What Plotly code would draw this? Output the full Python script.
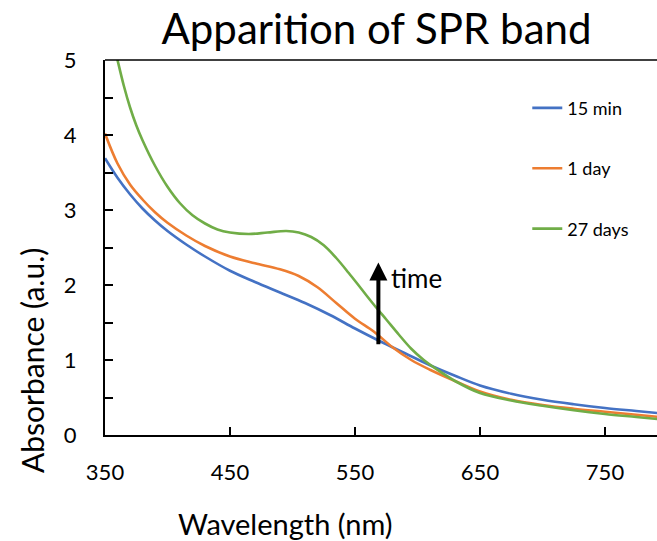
import plotly.graph_objects as go

# ---- data ----
wl_15min = [350, 360, 370, 380, 390, 400, 415, 430, 450, 470, 490, 510, 530, 550, 570, 590, 610, 630, 650, 675, 700, 725, 750, 775, 800]
abs_15min = [3.69, 3.43, 3.21, 3.02, 2.86, 2.72, 2.54, 2.38, 2.19, 2.04, 1.90, 1.76, 1.60, 1.42, 1.25, 1.09, 0.93, 0.79, 0.66, 0.55, 0.47, 0.41, 0.36, 0.32, 0.28]

wl_1day = [350, 360, 370, 380, 390, 400, 415, 430, 450, 470, 490, 505, 520, 535, 550, 565, 580, 595, 610, 630, 650, 675, 700, 725, 750, 775, 800]
abs_1day = [4.02, 3.62, 3.34, 3.14, 2.97, 2.83, 2.66, 2.52, 2.38, 2.29, 2.21, 2.12, 1.97, 1.76, 1.55, 1.38, 1.17, 1.00, 0.87, 0.72, 0.58, 0.47, 0.40, 0.35, 0.31, 0.27, 0.23]

wl_27days = [355, 360, 365, 370, 375, 380, 390, 400, 410, 420, 430, 440, 450, 465, 480, 495, 505, 515, 525, 535, 545, 555, 565, 575, 585, 595, 605, 615, 630, 650, 675, 700, 725, 750, 775, 800]
abs_27days = [5.36, 5.00, 4.66, 4.37, 4.13, 3.93, 3.59, 3.31, 3.09, 2.93, 2.82, 2.74, 2.70, 2.68, 2.70, 2.72, 2.70, 2.64, 2.53, 2.36, 2.16, 1.95, 1.74, 1.54, 1.34, 1.15, 1.00, 0.88, 0.72, 0.56, 0.46, 0.39, 0.33, 0.28, 0.24, 0.20]

series_names = ["15 min", "1 day", "27 days"]
series_colors = ["#4472C4", "#ED7D31", "#70AD47"]

x_ticks = [350, 450, 550, 650, 750]
y_ticks = [0, 1, 2, 3, 4, 5]

arrow_x = 568.7
arrow_y0 = 1.19
arrow_y1 = 2.30

FONT = "Lato"

fig = go.Figure()
for i, (wl, ab) in enumerate([(wl_15min, abs_15min), (wl_1day, abs_1day), (wl_27days, abs_27days)]):
    fig.add_trace(go.Scatter(
        x=wl, y=ab, mode="lines", name=series_names[i],
        line=dict(color=series_colors[i], width=2.6, shape="spline", smoothing=1.0),
        legendgroup=f"g{i}",
    ))

fig.update_layout(
    width=657, height=541,
    margin=dict(l=105, r=0, t=60, b=106),
    paper_bgcolor="white", plot_bgcolor="white",
    font=dict(family=FONT, color="black"),
    title=dict(text="Apparition of SPR band", font=dict(size=42, family=FONT, color="black"),
               x=0.573, xref="container", xanchor="center",
               y=0.945, yref="container", yanchor="middle"),
    showlegend=True,
    legend=dict(x=0.765, xanchor="left", y=0.921, yanchor="top",
                font=dict(size=18, family=FONT, color="black"),
                tracegroupgap=34, bgcolor="rgba(0,0,0,0)", itemwidth=30),
)

fig.update_xaxes(
    range=[350, 791.6], tickvals=x_ticks, ticktext=[str(v) for v in x_ticks],
    ticks="inside", ticklen=8, tickwidth=1.5, tickcolor="black",
    showline=True, linecolor="black", linewidth=2,
    showgrid=False, zeroline=False,
    tickfont=dict(size=22, family=FONT, color="black"),
    ticklabelstandoff=17,
)
fig.update_yaxes(
    range=[0, 5], tickvals=y_ticks, ticktext=[str(v) for v in y_ticks],
    ticks="inside", ticklen=8, tickwidth=1.5, tickcolor="black",
    minor=dict(dtick=0.5, ticks="inside", ticklen=8, tickwidth=1.5, tickcolor="black", showgrid=False),
    showline=True, linecolor="black", linewidth=2,
    showgrid=False, zeroline=False,
    tickfont=dict(size=22, family=FONT, color="black"),
    ticklabelstandoff=22,
)

# top frame line
fig.add_shape(type="line", xref="paper", yref="paper", x0=0, x1=1, y0=1, y1=1,
              line=dict(color="black", width=1.5))

# axis titles (positioned like the reference)
fig.add_annotation(text="Wavelength (nm)", xref="paper", yref="paper",
                   x=(285.5 - 105) / 552, y=(435 - 523) / 375, xanchor="center", yanchor="middle",
                   showarrow=False, font=dict(size=29, family=FONT, color="black"))
fig.add_annotation(text="Absorbance (a.u.)", xref="paper", yref="paper",
                   x=(32 - 105) / 552, y=(435 - 361) / 375, xanchor="center", yanchor="middle",
                   textangle=-90, showarrow=False, font=dict(size=30, family=FONT, color="black"))

# "time" arrow
fig.add_annotation(x=arrow_x, y=arrow_y1, ax=arrow_x, ay=arrow_y0, xref="x", yref="y",
                   axref="x", ayref="y", text="", showarrow=True,
                   arrowhead=2, arrowsize=0.9, arrowwidth=4, arrowcolor="black", standoff=0)
fig.add_annotation(x=577, y=2.09, xref="x", yref="y", text="time", showarrow=False,
                   xanchor="left", yanchor="middle", font=dict(size=26, family=FONT, color="black"))

fig.write_html("out.html")
